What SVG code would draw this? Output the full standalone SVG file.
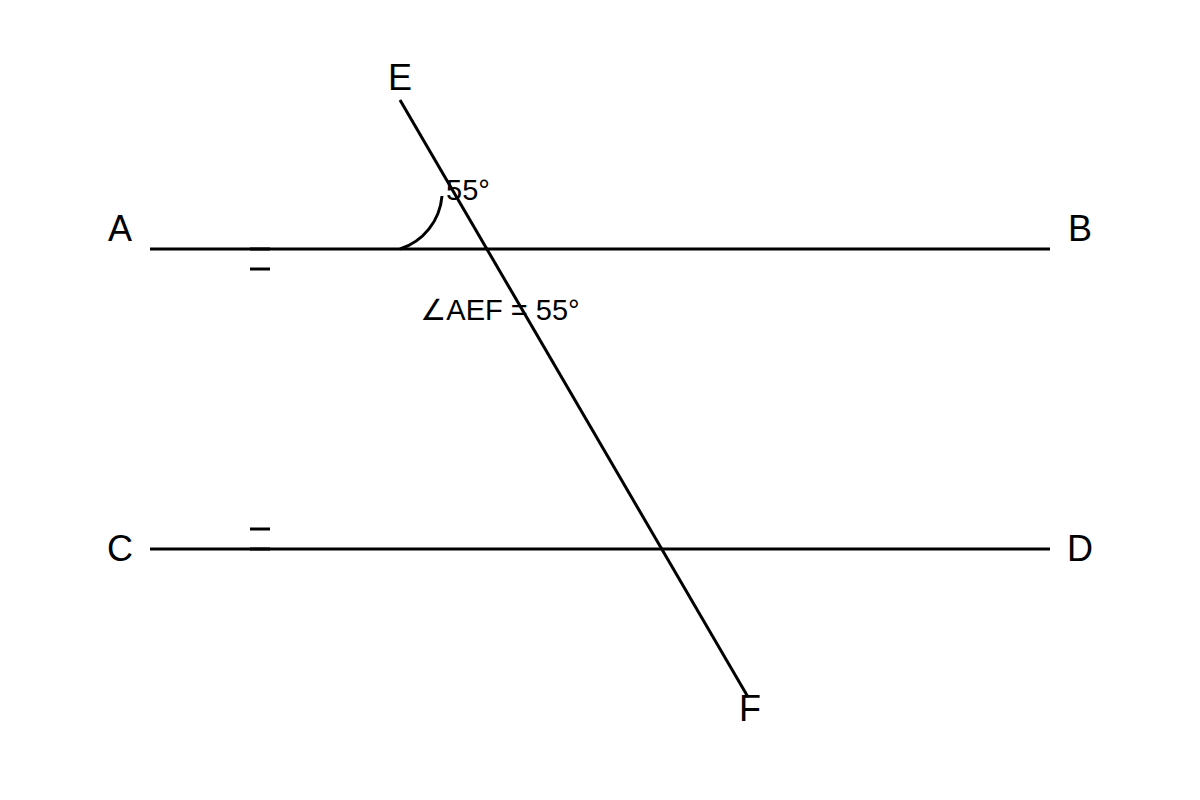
<svg xmlns="http://www.w3.org/2000/svg" width="1200" height="800" viewBox="0 0 1200 800">
<style>
.ln{stroke:#000;stroke-width:3;fill:none;stroke-linecap:butt}
.lbl{font-family:"Liberation Sans",Arial,sans-serif;font-size:36px;fill:#000;text-anchor:middle}
.ang{font-family:"Liberation Sans","DejaVu Sans",sans-serif;font-size:29px;fill:#000}
</style>
<rect width="1200" height="800" fill="#fff"/>
<g id="connectors">
<line id="AB" class="ln" x1="150" y1="249" x2="1050" y2="249"/>
<line id="CD" class="ln" x1="150" y1="549" x2="1050" y2="549"/>
<line id="EF" class="ln" x1="400" y1="100" x2="748" y2="697"/>
<path id="arc" class="ln" stroke-width="2" d="M400,249 A61,61 0 0 0 442,196"/>
<line class="ln" x1="250" y1="249" x2="270" y2="249"/>
<line class="ln" x1="250" y1="269" x2="270" y2="269"/>
<line class="ln" x1="250" y1="529" x2="270" y2="529"/>
<line class="ln" x1="250" y1="549" x2="270" y2="549"/>
</g>
<g id="A"><text class="lbl" x="120" y="241">A</text></g>
<g id="B"><text class="lbl" x="1080" y="241">B</text></g>
<g id="C"><text class="lbl" x="120" y="561">C</text></g>
<g id="D"><text class="lbl" x="1080" y="561">D</text></g>
<g id="E"><text class="lbl" x="400" y="90">E</text></g>
<g id="F"><text class="lbl" x="750" y="721">F</text></g>
<g id="angle-label"><text class="ang" x="446" y="200">55°</text></g>
<g id="statement"><text class="ang" x="500" y="320" text-anchor="middle">∠AEF = 55°</text></g>
</svg>
